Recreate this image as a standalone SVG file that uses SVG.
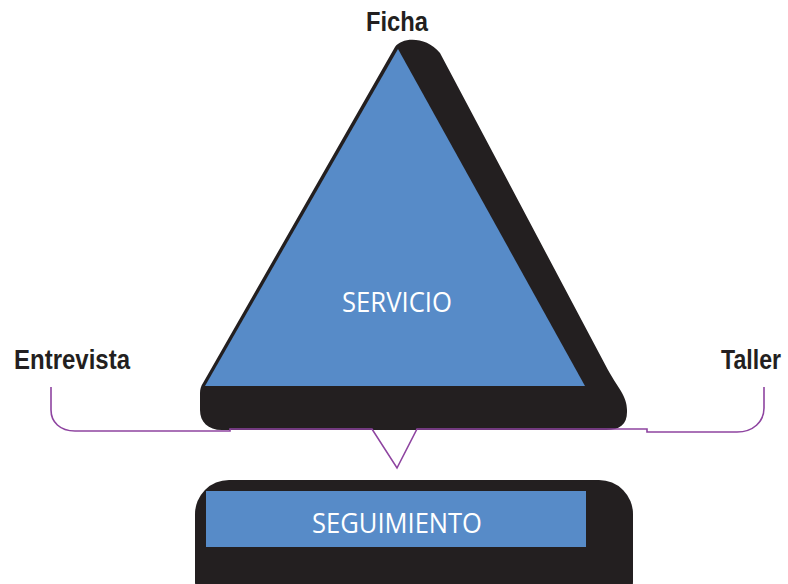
<svg xmlns="http://www.w3.org/2000/svg" width="788" height="584" viewBox="0 0 788 584">
<style>
.lbl{font-family:"Liberation Sans",Arial,sans-serif;font-weight:bold;font-size:28px;fill:#231f20}
.in{font-family:"Open Sans","Liberation Sans",sans-serif;font-size:28px;fill:#ffffff;text-anchor:middle}
.blue{fill:#578bc8}
.shadow{fill:#231f20}
.conn{fill:none;stroke:#8e44a0;stroke-width:1.6}
</style>
<rect width="788" height="584" fill="#ffffff"/>
<g id="servicio">
<path class="shadow" d="M 395 47 C 402 37, 426 36, 440 53 L 608 370 C 618 388, 627 396, 627 410 L 627 412 C 627 424, 620 430, 606 430 L 222 430 C 208 430, 200 422, 200 410 L 200 393 C 200 389, 201 386, 203 383 Z"/>
<polygon class="blue" points="398,49 585,386 205,386"/>
<text class="in" x="397" y="312" textLength="110" lengthAdjust="spacingAndGlyphs">SERVICIO</text>
</g>
<g id="seguimiento">
<rect class="shadow" x="195" y="480" width="438" height="135" rx="34" ry="34"/>
<rect class="blue" x="206" y="491" width="380" height="56"/>
<text class="in" x="397" y="533" textLength="170" lengthAdjust="spacingAndGlyphs">SEGUIMIENTO</text>
</g>
<g id="ficha"><text class="lbl" x="366" y="31" textLength="62" lengthAdjust="spacingAndGlyphs">Ficha</text></g>
<g id="entrevista"><text class="lbl" x="14" y="369" textLength="116" lengthAdjust="spacingAndGlyphs">Entrevista</text></g>
<g id="taller" transform="translate(721,369) scale(1,1.15)"><text class="lbl" x="0" y="0" style="font-size:24px" textLength="60" lengthAdjust="spacingAndGlyphs">Taller</text></g>
<g id="connectors">
<path class="conn" d="M 51 387 L 51 410 C 51 422, 60 431, 75 431 L 230 431 L 230 429 L 372 429 L 397 468 L 417 429 L 647 429 L 647 432 L 737 432 C 753 432, 764 422, 764 408 L 764 387"/>
</g>
</svg>
